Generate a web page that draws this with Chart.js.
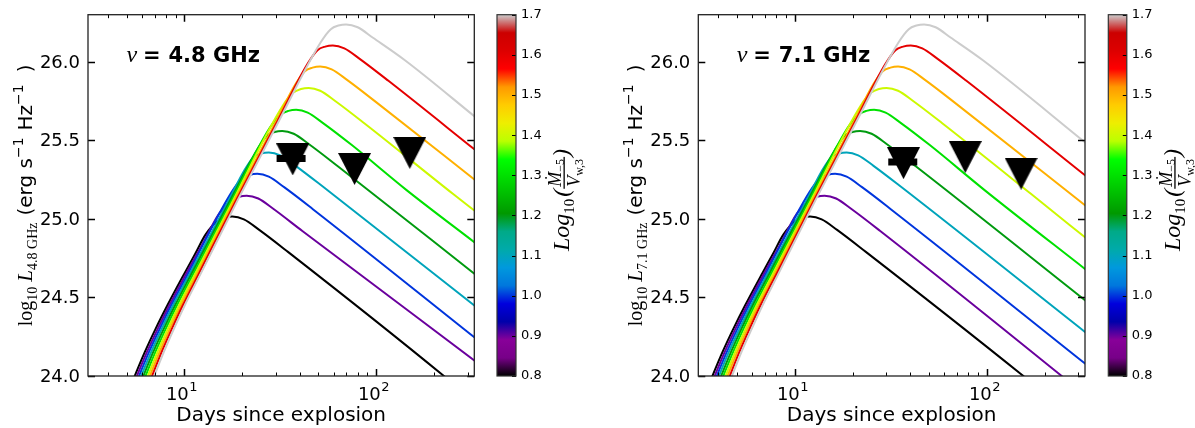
<!DOCTYPE html>
<html><head><meta charset="utf-8">
<script src="https://cdn.jsdelivr.net/npm/chart.js@4.4.1/dist/chart.umd.min.js"></script>
<style>
html,body{margin:0;padding:0;background:#fff;}
#wrap{position:relative;width:1195px;height:428px;overflow:hidden;background:#fff;}
canvas{position:absolute;top:0;}
</style></head><body>
<div id="wrap">
<canvas id="p1" width="490" height="428" style="left:0px"></canvas>
<canvas id="c1" width="110" height="428" style="left:490px"></canvas>
<canvas id="p2" width="495" height="428" style="left:600px"></canvas>
<canvas id="c2" width="100" height="428" style="left:1095px"></canvas>
</div>
<script>
// ---- colour-bar values (Log10(Mdot_-5 / V_w,3)) ----
const cbarTicks = [0.8, 0.9, 1.0, 1.1, 1.2, 1.3, 1.4, 1.5, 1.6, 1.7];
const curveValues = [0.8, 0.9, 1.0, 1.1, 1.2, 1.3, 1.4, 1.5, 1.6, 1.7];
const yTickValues = [24.0, 24.5, 25.0, 25.5, 26.0];
const xTickValues = [4,5,6,7,8,9,10,20,30,40,50,60,70,80,90,100,200,300];
const xTickLabels = ['','','','','','','10¹','','','','','','','','','10²','',''];

// ---- 4.8 GHz model curves: days, log10 L ----
const d48_08 = [5.09, 6.20, 7.07, 8.15, 10.0, 11.40, 12.88, 14.79, 16.22, 17.78, 20.42, 24.55, 34.67, 222.3, 281.8];
const L48_08 = [23.9, 24.15, 24.3, 24.45, 24.653, 24.78, 24.9, 24.985, 25.008, 25.015, 24.997, 24.93, 24.79, 24.006, 23.9];
const d48_09 = [5.23, 6.36, 7.25, 8.34, 10.22, 12.30, 15.14, 17.58, 19.28, 21.13, 24.27, 29.17, 41.21, 338.8];
const L48_09 = [23.9, 24.15, 24.3, 24.45, 24.653, 24.83, 25.033, 25.118, 25.141, 25.148, 25.13, 25.063, 24.923, 24.083];
const d48_10 = [5.37, 6.52, 7.43, 8.53, 10.45, 17.66, 19.95, 21.88, 23.99, 27.54, 33.11, 46.77, 338.8];
const L48_10 = [23.9, 24.15, 24.3, 24.45, 24.653, 25.172, 25.257, 25.28, 25.287, 25.269, 25.202, 25.062, 24.229];
const d48_11 = [5.51, 6.69, 7.61, 8.73, 10.68, 17.06, 20.51, 22.91, 25.12, 27.54, 31.62, 38.02, 53.70, 338.8];
const L48_11 = [23.9, 24.15, 24.3, 24.45, 24.653, 25.121, 25.308, 25.393, 25.416, 25.423, 25.405, 25.338, 25.198, 24.432];
const d48_12 = [5.66, 6.86, 7.80, 8.94, 10.91, 17.37, 24.04, 26.92, 29.51, 32.36, 37.15, 44.67, 63.10, 338.8];
const L48_12 = [23.9, 24.15, 24.3, 24.45, 24.653, 25.121, 25.445, 25.53, 25.553, 25.56, 25.542, 25.475, 25.335, 24.634];
const d48_13 = [5.81, 7.04, 7.99, 9.15, 11.16, 17.68, 27.86, 31.84, 34.91, 38.28, 43.95, 52.84, 74.65, 143.55, 338.8];
const L48_13 = [23.9, 24.15, 24.3, 24.45, 24.653, 25.121, 25.58, 25.665, 25.688, 25.695, 25.677, 25.61, 25.47, 25.185, 24.835];
const d48_14 = [5.97, 7.22, 8.19, 9.37, 11.40, 18.00, 32.51, 36.98, 40.55, 44.46, 51.05, 61.38, 86.70, 251.2, 338.8];
const L48_14 = [23.9, 24.15, 24.3, 24.45, 24.653, 25.121, 25.719, 25.804, 25.827, 25.834, 25.816, 25.749, 25.609, 25.16, 25.036];
const d48_15 = [6.13, 7.40, 8.39, 9.59, 11.66, 18.32, 30.03, 37.84, 42.46, 46.56, 51.05, 58.61, 70.47, 99.54, 338.8];
const L48_15 = [23.9, 24.15, 24.3, 24.45, 24.653, 25.121, 25.62, 25.855, 25.94, 25.963, 25.97, 25.952, 25.885, 25.745, 25.234];
const d48_16 = [6.30, 7.59, 8.60, 9.81, 11.91, 18.65, 30.51, 43.95, 49.43, 54.20, 59.43, 68.23, 82.04, 115.88, 338.8];
const L48_16 = [23.9, 24.15, 24.3, 24.45, 24.653, 25.121, 25.62, 25.989, 26.074, 26.097, 26.104, 26.086, 26.019, 25.879, 25.426];
const d48_17 = [6.46, 7.79, 8.81, 10.04, 12.18, 18.98, 30.99, 51.29, 58.01, 63.61, 69.74, 80.08, 96.27, 141.25, 338.8];
const L48_17 = [23.9, 24.15, 24.3, 24.45, 24.653, 25.121, 25.62, 26.123, 26.208, 26.231, 26.238, 26.22, 26.153, 26.01, 25.636];

// ---- 7.1 GHz model curves ----
const d71_08 = [3.44, 4.19, 4.78, 5.51, 6.76, 7.71, 8.71, 10.0, 10.97, 12.02, 13.80, 16.60, 23.44, 152.8, 199.5];
const L71_08 = [23.9, 24.15, 24.3, 24.45, 24.653, 24.78, 24.9, 24.985, 25.008, 25.015, 24.997, 24.93, 24.79, 24.006, 23.89];
const d71_09 = [3.54, 4.30, 4.90, 5.64, 6.91, 8.32, 10.23, 11.89, 13.03, 14.29, 16.41, 19.72, 27.86, 242.1, 281.8];
const L71_09 = [23.9, 24.15, 24.3, 24.45, 24.653, 24.83, 25.033, 25.118, 25.141, 25.148, 25.13, 25.063, 24.923, 24.006, 23.94];
const d71_10 = [3.63, 4.41, 5.02, 5.77, 7.06, 11.94, 13.49, 14.79, 16.22, 18.62, 22.39, 31.62, 338.8];
const L71_10 = [23.9, 24.15, 24.3, 24.45, 24.653, 25.172, 25.257, 25.28, 25.287, 25.269, 25.202, 25.062, 24.062];
const d71_11 = [3.73, 4.52, 5.15, 5.91, 7.22, 11.54, 13.87, 15.49, 16.98, 18.62, 21.38, 25.70, 36.31, 338.8];
const L71_11 = [23.9, 24.15, 24.3, 24.45, 24.653, 25.121, 25.308, 25.393, 25.416, 25.423, 25.405, 25.338, 25.198, 24.263];
const d71_12 = [3.83, 4.64, 5.27, 6.04, 7.38, 11.74, 16.26, 18.20, 19.95, 21.88, 25.12, 30.20, 42.66, 338.8];
const L71_12 = [23.9, 24.15, 24.3, 24.45, 24.653, 25.121, 25.445, 25.53, 25.553, 25.56, 25.542, 25.475, 25.335, 24.465];
const d71_13 = [3.93, 4.76, 5.40, 6.19, 7.54, 11.95, 18.84, 21.53, 23.60, 25.88, 29.72, 35.73, 50.47, 97.05, 338.8];
const L71_13 = [23.9, 24.15, 24.3, 24.45, 24.653, 25.121, 25.58, 25.665, 25.688, 25.695, 25.677, 25.61, 25.47, 25.185, 24.664];
const d71_14 = [4.04, 4.88, 5.54, 6.33, 7.71, 12.17, 21.98, 25.00, 27.42, 30.06, 34.51, 41.50, 58.61, 169.8, 338.8];
const L71_14 = [23.9, 24.15, 24.3, 24.45, 24.653, 25.121, 25.719, 25.804, 25.827, 25.834, 25.816, 25.749, 25.609, 25.16, 24.865];
const d71_15 = [4.14, 5.00, 5.67, 6.48, 7.88, 12.39, 20.31, 25.59, 28.71, 31.48, 34.51, 39.63, 47.64, 67.30, 338.8];
const L71_15 = [23.9, 24.15, 24.3, 24.45, 24.653, 25.121, 25.62, 25.855, 25.94, 25.963, 25.97, 25.952, 25.885, 25.745, 25.07];
const d71_16 = [4.26, 5.13, 5.81, 6.63, 8.05, 12.61, 20.62, 29.72, 33.42, 36.64, 40.18, 46.13, 55.46, 78.34, 338.8];
const L71_16 = [23.9, 24.15, 24.3, 24.45, 24.653, 25.121, 25.62, 25.989, 26.074, 26.097, 26.104, 26.086, 26.019, 25.879, 25.26];
const d71_17 = [4.37, 5.26, 5.96, 6.79, 8.23, 12.83, 20.95, 34.67, 39.22, 43.00, 47.15, 54.14, 65.09, 95.50, 338.8];
const L71_17 = [23.9, 24.15, 24.3, 24.45, 24.653, 25.121, 25.62, 26.123, 26.208, 26.231, 26.238, 26.22, 26.153, 26.01, 25.47];

// ---- observations: upper limits (triangles) and detection bar ----
const limDays48 = [36.7, 77.1, 149.7];
const limL48    = [25.379, 25.318, 25.42];
const detDays48 = [36.0];
const detL48    = [25.384];
const limDays71 = [36.8, 77.2, 151.0];
const limL71    = [25.355, 25.394, 25.288];
const detDays71 = [36.5];
const detL71    = [25.363];

const days48 = [d48_08,d48_09,d48_10,d48_11,d48_12,d48_13,d48_14,d48_15,d48_16,d48_17];
const lum48  = [L48_08,L48_09,L48_10,L48_11,L48_12,L48_13,L48_14,L48_15,L48_16,L48_17];
const days71 = [d71_08,d71_09,d71_10,d71_11,d71_12,d71_13,d71_14,d71_15,d71_16,d71_17];
const lum71  = [L71_08,L71_09,L71_10,L71_11,L71_12,L71_13,L71_14,L71_15,L71_16,L71_17];

// ---- nipy_spectral colormap ----
const NIPY = [
 [0.00,0,0,0],[0.05,.4667,0,.5333],[0.10,.5333,0,.6],[0.15,0,0,.6667],[0.20,0,0,.8667],
 [0.25,0,.4667,.8667],[0.30,0,.6,.8667],[0.35,0,.6667,.6667],[0.40,0,.6667,.5333],[0.45,0,.6,0],
 [0.50,0,.7333,0],[0.55,0,.8667,0],[0.60,0,1,0],[0.65,.7333,1,0],[0.70,.9333,.9333,0],
 [0.75,1,.8,0],[0.80,1,.6,0],[0.85,1,0,0],[0.90,.8667,0,0],[0.95,.8,0,0],[1.00,.8,.8,.8]];
function rgbOf(a){ return 'rgb(' + [1,2,3].map(j=>Math.round(255*a[j])).join(',') + ')'; }
function nipy(t){
  t = Math.max(0, Math.min(1, t));
  for (let k = 1; k < NIPY.length; k++) {
    if (t <= NIPY[k][0] + 1e-9) {
      const a = NIPY[k-1], b = NIPY[k], f = (t - a[0]) / (b[0] - a[0]);
      return 'rgb(' + [1,2,3].map(j=>Math.round(255*(a[j]+(b[j]-a[j])*f))).join(',') + ')';
    }
  }
  return rgbOf(NIPY[NIPY.length-1]);
}
const CMIN = 0.8, CMAX = 1.7;
const SUP = {'¹':'1','²':'2','³':'3'};

// downward triangle marker
function makeTri(){
  const c = document.createElement('canvas'); c.width = 33; c.height = 32;
  const g = c.getContext('2d'); g.fillStyle = '#000';
  g.beginPath(); g.moveTo(0,0); g.lineTo(33,0); g.lineTo(16.5,32); g.closePath(); g.fill();
  return c;
}
const TRI = makeTri();

function drawSegs(ctx, x, yCenter, segs){
  let total = 0;
  segs.forEach(s => { if (s.t) { ctx.font = s.f; total += ctx.measureText(s.t).width; } total += (s.gap||0); });
  ctx.save();
  ctx.translate(x, yCenter + total/2);
  ctx.rotate(-Math.PI/2);
  ctx.fillStyle = '#000'; ctx.textBaseline = 'alphabetic'; ctx.textAlign = 'left';
  let cx = 0;
  segs.forEach(s => {
    if (s.t) { ctx.font = s.f; ctx.fillText(s.t, cx, -(s.dy||0)); cx += ctx.measureText(s.t).width; }
    cx += (s.gap||0);
  });
  ctx.restore();
}

function panelDeco(freq){
  return {
    id: 'deco',
    afterDraw(chart){
      const {ctx, chartArea: a, scales: {x, y}} = chart;
      ctx.save();
      ctx.strokeStyle = '#000';
      // inward ticks on all sides + x tick labels
      xTickValues.forEach((v, i) => {
        const px = Math.round(x.getPixelForValue(v)) + 0.5;
        const lg = Math.log10(v), major = Math.abs(lg - Math.round(lg)) < 1e-9;
        const len = major ? 7 : 3.5;
        ctx.lineWidth = major ? 1.5 : 1;
        ctx.beginPath();
        ctx.moveTo(px, a.bottom); ctx.lineTo(px, a.bottom - len);
        ctx.moveTo(px, a.top); ctx.lineTo(px, a.top + len);
        ctx.stroke();
        const lab = xTickLabels[i];
        if (lab) {
          const base = lab.slice(0, 2), sup = SUP[lab.slice(2)] || lab.slice(2);
          ctx.font = '18px "DejaVu Sans"'; const wb = ctx.measureText(base).width;
          ctx.font = '13px "DejaVu Sans"'; const ws = ctx.measureText(sup).width;
          const x0 = px - 3 - (wb + ws)/2;
          ctx.fillStyle = '#000'; ctx.textAlign = 'left'; ctx.textBaseline = 'alphabetic';
          ctx.font = '18px "DejaVu Sans"'; ctx.fillText(base, x0, a.bottom + 23.5);
          ctx.font = '13px "DejaVu Sans"'; ctx.fillText(sup, x0 + wb + 0.5, a.bottom + 15);
        }
      });
      ctx.font = '18px "DejaVu Sans"'; ctx.fillStyle = '#000';
      ctx.textAlign = 'right'; ctx.textBaseline = 'middle';
      yTickValues.forEach(v => {
        const py = Math.round(y.getPixelForValue(v)) + 0.5;
        ctx.lineWidth = 1.5;
        ctx.beginPath();
        ctx.moveTo(a.left, py); ctx.lineTo(a.left + 7, py);
        ctx.moveTo(a.right, py); ctx.lineTo(a.right - 7, py);
        ctx.stroke();
        ctx.fillText(v.toFixed(1), a.left - 8, py + 1);
      });
      ctx.lineWidth = 1.3; ctx.strokeStyle = '#222';
      ctx.strokeRect(a.left, a.top, a.right - a.left, a.bottom - a.top);
      // frequency label
      ctx.fillStyle = '#000'; ctx.textBaseline = 'alphabetic'; ctx.textAlign = 'left';
      ctx.font = 'italic 24px "Liberation Serif", "DejaVu Serif"';
      ctx.fillText('ν', a.left + 38.5, 62.3);
      ctx.font = 'bold 21px "DejaVu Sans"';
      ctx.textAlign = 'center';
      ctx.fillText('=', a.left + 63.7, 62.3);
      ctx.textAlign = 'left';
      ctx.fillText(freq, a.left + 80.5, 62.3);
      // y-axis title
      drawSegs(ctx, a.left - 56, (a.top + a.bottom)/2, [
        {t:'log', f:'20px "Liberation Serif"'},
        {t:'10', f:'14px "Liberation Serif"', dy:-5},
        {gap:5},
        {t:'L', f:'italic 21px "Liberation Serif"'},
        {t:freq, f:'14px "Liberation Serif"', dy:-5},
        {gap:7},
        {t:'(erg s', f:'20px "DejaVu Sans"'},
        {t:'−1', f:'14px "DejaVu Sans"', dy:9},
        {gap:7},
        {t:'Hz', f:'20px "DejaVu Sans"'},
        {t:'−1', f:'14px "DejaVu Sans"', dy:9},
        {gap:12},
        {t:')', f:'20px "DejaVu Sans"'}
      ]);
      ctx.restore();
    }
  };
}

function makePanel(id, daysArr, lumArr, limD, limL, detD, detL, freq, yAxisW, padRight){
  const datasets = [];
  curveValues.forEach((v, i) => {
    datasets.push({
      data: daysArr[i].map((d, k) => ({x: d, y: lumArr[i][k]})),
      borderColor: nipy((v - CMIN)/(CMAX - CMIN)),
      borderWidth: 2, pointRadius: 0, pointHoverRadius: 0, fill: false,
      cubicInterpolationMode: 'monotone', order: 30 - i, clip: 0
    });
  });
  datasets.push({
    data: limD.map((d, k) => ({x: d, y: limL[k]})),
    showLine: false, pointStyle: TRI, pointRadius: 16, pointHoverRadius: 16, order: 2
  });
  datasets.push({
    data: detD.map((d, k) => ({x: d, y: detL[k]})),
    showLine: false, pointStyle: 'line', pointRadius: 14.5, pointHoverRadius: 14.5,
    pointBorderWidth: 7, pointBorderColor: '#000', pointBackgroundColor: '#000', order: 1
  });
  return new Chart(document.getElementById(id), {
    type: 'line',
    data: {datasets},
    options: {
      responsive: false, animation: false, events: [],
      layout: {autoPadding: false, padding: {top: 14.7, right: padRight, left: 0, bottom: 0}},
      plugins: {legend: {display: false}, tooltip: {enabled: false}},
      scales: {
        x: {
          type: 'logarithmic', min: 3.14, max: 325,
          grid: {display: false, drawTicks: false}, border: {display: false},
          afterBuildTicks: s => { s.ticks = xTickValues.map(v => ({value: v})); },
          afterFit: s => { s.height = 52; },
          ticks: {display: false},
          title: {display: true, text: 'Days since explosion', color: '#000',
                  font: {family: 'DejaVu Sans', size: 20}, padding: {top: 0, bottom: 0}}
        },
        y: {
          type: 'linear', min: 24.0, max: 26.3,
          grid: {display: false, drawTicks: false}, border: {display: false},
          afterBuildTicks: s => { s.ticks = yTickValues.map(v => ({value: v})); },
          afterFit: s => { s.width = yAxisW; },
          ticks: {display: false}
        }
      }
    },
    plugins: [panelDeco(freq)]
  });
}

const cbarPlugin = {
  id: 'cbar',
  beforeDraw(chart){
    const {ctx, chartArea: a, scales: {y}} = chart;
    const yb = y.getPixelForValue(CMIN), yt = y.getPixelForValue(CMAX);
    const g = ctx.createLinearGradient(0, yb, 0, yt);
    NIPY.forEach(s => g.addColorStop(s[0], rgbOf(s)));
    ctx.save();
    ctx.fillStyle = g;
    ctx.fillRect(a.left, yt, a.right - a.left, yb - yt);
    ctx.restore();
  },
  afterDraw(chart){
    const {ctx, chartArea: a, scales: {y}} = chart;
    ctx.save();
    ctx.strokeStyle = '#000'; ctx.lineWidth = 1;
    cbarTicks.forEach(v => {
      const py = Math.round(y.getPixelForValue(v)) + 0.5;
      ctx.beginPath(); ctx.moveTo(a.right, py); ctx.lineTo(a.right - 4, py); ctx.stroke();
    });
    ctx.strokeStyle = '#333'; ctx.lineWidth = 1.2;
    ctx.strokeRect(a.left, a.top, a.right - a.left, a.bottom - a.top);
    // colour-bar title  Log10( Mdot_-5 / V_w,3 )
    const bx = a.right + 53;
    const big = 'italic 24px "Liberation Serif", "DejaVu Serif"';
    const sub = '15px "Liberation Serif", "DejaVu Serif"';
    const frac = 'italic 18px "Liberation Serif", "DejaVu Serif"';
    const fsub = '12px "Liberation Serif", "DejaVu Serif"';
    ctx.fillStyle = '#000'; ctx.textBaseline = 'alphabetic'; ctx.textAlign = 'left';
    const w = t => ctx.measureText(t).width;
    ctx.font = big; const wLog = w('Log'), wPar = w('(');
    ctx.font = sub; const w10 = w('10');
    ctx.font = frac; const wM = w('Ṁ'), wV = w('V');
    ctx.font = fsub; const wM5 = w('−5'), wW3 = w('w,3');
    const wFrac = Math.max(wM + wM5, wV + wW3) + 4;
    const total = wLog + w10 + 2 + wPar + wFrac + wPar;
    ctx.translate(bx, 200 + total/2);
    ctx.rotate(-Math.PI/2);
    let cx = 0;
    ctx.font = big; ctx.fillText('Log', cx, 0); cx += wLog;
    ctx.font = sub; ctx.fillText('10', cx, 5); cx += w10 + 2;
    ctx.font = big; ctx.fillText('(', cx, 0); cx += wPar;
    const nx = cx + (wFrac - (wM + wM5))/2;
    ctx.font = frac; ctx.fillText('Ṁ', nx, -8);
    ctx.font = fsub; ctx.fillText('−5', nx + wM, -5);
    ctx.fillRect(cx, -5.5, wFrac, 1.3);
    const dx = cx + (wFrac - (wV + wW3))/2;
    ctx.font = frac; ctx.fillText('V', dx, 11);
    ctx.font = fsub; ctx.fillText('w,3', dx + wV, 14);
    cx += wFrac;
    ctx.font = big; ctx.fillText(')', cx, 0);
    ctx.restore();
  }
};

function makeCbar(id, padLeft, axisW){
  return new Chart(document.getElementById(id), {
    type: 'line',
    data: {datasets: []},
    options: {
      responsive: false, animation: false, events: [],
      layout: {autoPadding: false, padding: {top: 14.7, bottom: 52, left: padLeft, right: 0}},
      plugins: {legend: {display: false}, tooltip: {enabled: false}},
      scales: {
        x: {display: false},
        y: {
          position: 'right', type: 'linear', min: CMIN, max: CMAX,
          grid: {display: false, drawTicks: false}, border: {display: false},
          afterBuildTicks: s => { s.ticks = cbarTicks.map(v => ({value: v})); },
          afterFit: s => { s.width = axisW; },
          ticks: {padding: 5, color: '#000', font: {family: 'DejaVu Sans', size: 13},
                  callback: v => Number(v).toFixed(1)}
        }
      }
    },
    plugins: [cbarPlugin]
  });
}

makePanel('p1', days48, lum48, limDays48, limL48, detDays48, detL48, '4.8 GHz', 88, 15.7);
makeCbar('c1', 7, 84);
makePanel('p2', days71, lum71, limDays71, limL71, detDays71, detL71, '7.1 GHz', 98.3, 10);
makeCbar('c2', 13.3, 68.2);
</script>
</body></html>
